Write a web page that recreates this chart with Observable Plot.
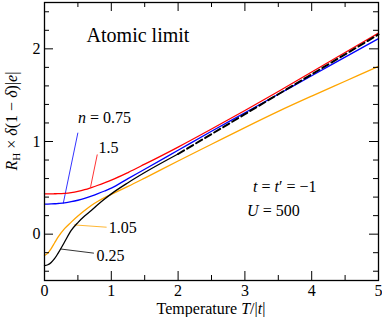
<!DOCTYPE html>
<html><head><meta charset="utf-8">
<script src="https://cdn.jsdelivr.net/npm/d3@7"></script>
<script src="https://cdn.jsdelivr.net/npm/@observablehq/plot@0.6"></script>
<style>html,body{margin:0;padding:0;background:#fff;} svg{display:block}</style>
</head><body><div id="chart"></div>
<script>
// ---- data ----
const temps      = [0, 0.05, 0.1, 0.15, 0.2, 0.3, 0.4, 0.5, 0.6, 0.7, 0.8, 0.9, 1.0, 1.25, 1.5, 2, 2.5, 3, 3.5, 4, 4.5, 5];
const rhN150     = [0.435, 0.435, 0.435, 0.436, 0.437, 0.441, 0.449, 0.462, 0.48, 0.503, 0.528, 0.555, 0.583, 0.665, 0.755, 0.94, 1.135, 1.335, 1.54, 1.75, 1.96, 2.17];
const rhN075     = [0.325, 0.325, 0.326, 0.328, 0.331, 0.338, 0.35, 0.366, 0.386, 0.41, 0.437, 0.466, 0.497, 0.6, 0.70, 0.905, 1.11, 1.31, 1.51, 1.71, 1.91, 2.11];
const rhN105     = [-0.23, -0.205, -0.155, -0.095, -0.035, 0.06, 0.13, 0.195, 0.255, 0.31, 0.355, 0.395, 0.43, 0.515, 0.605, 0.79, 0.97, 1.15, 1.325, 1.49, 1.65, 1.81];
const tempsLow   = [0, 0.05, 0.1, 0.15, 0.2, 0.3, 0.4, 0.5, 0.6, 0.7, 0.8, 0.9, 1.0, 1.25, 1.5, 2];
const rhN025     = [-0.34, -0.33, -0.305, -0.265, -0.21, -0.085, 0.04, 0.125, 0.195, 0.255, 0.32, 0.38, 0.435, 0.555, 0.665, 0.865];
const tempsHigh  = [2, 2.5, 3, 3.5, 4, 4.5, 5];
const rhN025Dash = [0.865, 1.08, 1.295, 1.51, 1.725, 1.94, 2.155];

const xMajor = [0, 1, 2, 3, 4, 5];
const xMinor = [0.5, 1.5, 2.5, 3.5, 4.5];
const yMajor = [0, 1, 2];
const yMinor = [-0.4, -0.2, 0.2, 0.4, 0.6, 0.8, 1.2, 1.4, 1.6, 1.8, 2.2, 2.4];

// curve labels and their leader lines
const curveLabels = ["1.5", "1.05", "0.25"];
const labelT      = [0.81, 0.96, 0.78];
const labelV      = [0.93, 0.07, -0.23];
const leaderColor = ["#ff0000", "#ffa500", "#000000", "#0000ff"];
const leaderT1    = [0.79, 0.93, 0.74, 0.50];
const leaderV1    = [0.86, 0.075, -0.205, 1.095];
const leaderT2    = [0.69, 0.44, 0.24, 0.28];
const leaderV2    = [0.51, 0.10, -0.16, 0.33];

// ---- build ----
const W = 382, H = 317, mL = 44, mR = 4, mT = 2, mB = 37;
const plotW = W - mL - mR, plotH = H - mT - mB;
const font = "Liberation Serif, DejaVu Serif, Times New Roman, Times, serif";

const mk = (xs, ys) => xs.map((t, i) => ({T: t, v: ys[i]}));
const red = mk(temps, rhN150), blue = mk(temps, rhN075), orange = mk(temps, rhN105);
const blackSolid = mk(tempsLow, rhN025), blackDash = mk(tempsHigh, rhN025Dash);
const leaders = leaderT1.map((t, i) => ({x1: t, y1: leaderV1[i], x2: leaderT2[i], y2: leaderV2[i], c: leaderColor[i]}));
const labels = curveLabels.map((s, i) => ({s, T: labelT[i], v: labelV[i]}));

const chart = Plot.plot({
  width: W, height: H, marginLeft: mL, marginRight: mR, marginTop: mT, marginBottom: mB,
  style: {fontFamily: font, fontSize: "16px", color: "#000", background: "#fff", overflow: "visible"},
  x: {domain: [0, 5]},
  y: {domain: [-0.5, 2.5]},
  marks: [
    Plot.link(leaders, {x1: "x1", y1: "y1", x2: "x2", y2: "y2", stroke: "c", strokeWidth: 0.8}),
    Plot.line(orange, {x: "T", y: "v", stroke: "#ffa500", strokeWidth: 1.3, curve: "monotone-x"}),
    Plot.line(blackSolid, {x: "T", y: "v", stroke: "#000", strokeWidth: 1.3, curve: "monotone-x"}),
    Plot.line(blue, {x: "T", y: "v", stroke: "#0000ff", strokeWidth: 1.3, curve: "monotone-x"}),
    Plot.line(red, {x: "T", y: "v", stroke: "#ff0000", strokeWidth: 1.3, curve: "monotone-x"}),
    Plot.line(blackDash, {x: "T", y: "v", stroke: "#000", strokeWidth: 2, strokeDasharray: "7,3.5", curve: "monotone-x"}),
    Plot.text(labels, {x: "T", y: "v", text: "s", textAnchor: "start", lineAnchor: "middle", fontSize: 16, fill: "#000", fontFamily: font}),
    Plot.text(["Atomic limit"], {x: 0.63, y: 2.14, text: d => d, textAnchor: "start", lineAnchor: "middle", fontSize: 20, fill: "#000", fontFamily: font}),
    Plot.axisX(xMajor, {anchor: "bottom", tickSize: 0, tickPadding: 4, tickFormat: d => String(d), label: null, fontSize: 16, fontFamily: font}),
    Plot.axisY(yMajor, {anchor: "left", tickSize: 0, tickPadding: 4, tickFormat: d => String(d), label: null, fontSize: 16, fontFamily: font}),
    // inward ticks on all four sides
    Plot.tickX(xMajor, {x: d => d, insetTop: plotH - 9, stroke: "#000"}),
    Plot.tickX(xMinor, {x: d => d, insetTop: plotH - 5, stroke: "#000"}),
    Plot.tickX(xMajor, {x: d => d, insetBottom: plotH - 9, stroke: "#000"}),
    Plot.tickX(xMinor, {x: d => d, insetBottom: plotH - 5, stroke: "#000"}),
    Plot.tickY(yMajor, {y: d => d, insetRight: plotW - 9, stroke: "#000"}),
    Plot.tickY(yMinor, {y: d => d, insetRight: plotW - 5, stroke: "#000"}),
    Plot.tickY(yMajor, {y: d => d, insetLeft: plotW - 9, stroke: "#000"}),
    Plot.tickY(yMinor, {y: d => d, insetLeft: plotW - 5, stroke: "#000"}),
    Plot.frame({stroke: "#000", strokeWidth: 1.3})
  ]
});
document.getElementById("chart").append(chart);

// ---- rich-text annotations (math italics / subscripts) ----
const sx = chart.scale("x"), sy = chart.scale("y");
const svg = d3.select(chart);
function rich(parts, attrs) {
  const t = svg.append("text").attr("font-size", 16).attr("fill", "#000")
    .attr("text-anchor", "start").style("font-family", font);
  for (const [k, v] of Object.entries(attrs)) t.attr(k, v);
  for (const p of parts) {
    const ts = t.append("tspan").text(p.s);
    if (p.i) ts.attr("font-style", "italic");
    if (p.fs) ts.attr("font-size", p.fs);
    if (p.dy) ts.attr("dy", p.dy);
  }
  return t;
}
rich([{s: "n", i: 1}, {s: " = 0.75"}],
  {x: sx.apply(0.51), y: sy.apply(1.24), "dominant-baseline": "middle"});
rich([{s: "t", i: 1}, {s: " = "}, {s: "t", i: 1}, {s: "′ = −1"}],
  {x: sx.apply(3.13), y: sy.apply(0.495), "dominant-baseline": "middle"});
rich([{s: "U", i: 1}, {s: " = 500"}],
  {x: sx.apply(3.04), y: sy.apply(0.233), "dominant-baseline": "middle"});
rich([{s: "Temperature "}, {s: "T", i: 1}, {s: "/|"}, {s: "t", i: 1}, {s: "|"}],
  {x: mL + plotW / 2, y: 314, "text-anchor": "middle"});
rich([{s: "R", i: 1}, {s: "H", fs: 11, dy: 3}, {s: " × ", dy: -3}, {s: "δ", i: 1}, {s: "(1 − "}, {s: "δ", i: 1}, {s: ")|"}, {s: "e", i: 1}, {s: "|"}],
  {transform: "translate(17,121) rotate(-90)", "text-anchor": "middle"});
</script>
</body></html>
